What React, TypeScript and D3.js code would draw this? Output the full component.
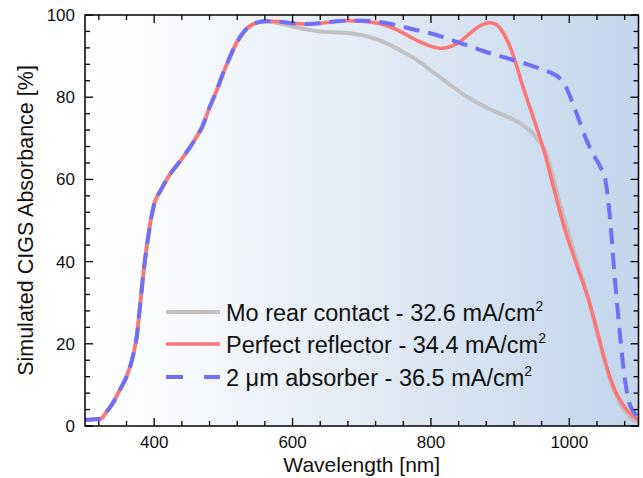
import React from 'react';
import * as d3 from 'd3';

// ---------- data ----------
const commonWl = [300, 310, 320, 325, 330, 340, 350, 360, 370, 375, 380, 385, 390, 395, 400, 410, 420, 440, 460, 470, 480, 490, 500, 510, 520, 530, 540, 550];
const commonAbs = [1.5, 1.6, 1.7, 2.0, 3.2, 5.5, 8.7, 12, 17.5, 22, 30, 38, 44.5, 50, 54, 57.5, 60.5, 65, 70, 73, 77.5, 81.5, 86, 90, 93.5, 96, 97.5, 98.2];

const moWl = [560, 580, 600, 620, 640, 660, 680, 700, 720, 740, 760, 780, 800, 820, 840, 860, 880, 900, 920, 940, 955, 965, 975, 985, 995, 1005, 1015, 1025, 1035, 1045, 1055, 1065, 1075, 1085, 1095, 1100];
const moAbs = [98.5, 98, 97.2, 96.5, 96, 95.8, 95.6, 95.1, 94.2, 92.8, 91, 89, 86.5, 84, 81.5, 79.3, 77.5, 76, 74.5, 72.3, 69.5, 67, 61.5, 55, 49, 43.5, 38, 32.5, 26, 19.5, 13.5, 8.5, 5, 2.5, 1.2, 1.0];

const reflWl = [560, 580, 600, 620, 640, 660, 680, 700, 720, 740, 760, 780, 800, 815, 830, 845, 860, 875, 885, 895, 905, 915, 925, 935, 945, 955, 965, 975, 985, 995, 1005, 1015, 1025, 1035, 1045, 1055, 1065, 1075, 1085, 1095, 1100];
const reflAbs = [98.5, 98.4, 98.0, 97.8, 98.0, 98.4, 98.6, 98.5, 98.1, 97.2, 95.6, 93.8, 92.4, 91.9, 92.4, 93.9, 96.1, 97.7, 98.1, 97.6, 95.5, 92, 87, 81.5, 76.5, 71.5, 66, 59.5, 53, 47, 42, 37, 32.3, 26.5, 20, 13.8, 9, 5.8, 3.5, 2, 1.5];

const thickWl = [560, 580, 600, 620, 640, 660, 680, 700, 720, 740, 760, 780, 800, 820, 840, 860, 880, 900, 920, 940, 960, 975, 985, 995, 1005, 1015, 1025, 1035, 1045, 1052, 1058, 1062, 1066, 1070, 1074, 1078, 1082, 1086, 1090, 1095, 1100];
const thickAbs = [98.5, 98.4, 98.0, 97.8, 98.0, 98.4, 98.6, 98.6, 98.4, 97.9, 97.1, 96.3, 95.5, 94.5, 93.3, 92.2, 91, 90, 89, 88, 86.8, 85.8, 84.8, 82.5, 78.5, 74, 69.5, 66, 63, 60, 52, 44, 35.5, 28, 21, 14.5, 9.5, 6, 4.2, 3, 2];

const seriesNames = ['Mo rear contact - 32.6 mA/cm', 'Perfect reflector - 34.4 mA/cm', '2 \u03bcm absorber - 36.5 mA/cm'];
const xMajorTicks = [400, 600, 800, 1000];
const yMajorTicks = [0, 20, 40, 60, 80, 100];
const xTitle = 'Wavelength [nm]';
const yTitle = 'Simulated CIGS Absorbance [%]';

// ---------- layout ----------
const W = 643, H = 478;
const L = 85, R = 638.5, T = 15, B = 426;
const FONT = '"Liberation Sans", Arial, Helvetica, sans-serif';

function build(wl: number[], ab: number[]): [number, number][] {
  const pts: [number, number][] = commonWl.map((w, i) => [w, commonAbs[i]]);
  wl.forEach((w, i) => pts.push([w, ab[i]]));
  return pts;
}

export default function App() {
  const x = d3.scaleLinear().domain([300, 1100]).range([L, R]);
  const y = d3.scaleLinear().domain([0, 100]).range([B, T]);
  const line = d3.line<[number, number]>().x(d => x(d[0])).y(d => y(d[1])).curve(d3.curveMonotoneX);

  const series = [
    { name: seriesNames[0], data: build(moWl, moAbs), color: '#c2c0c0', width: 4, dash: '', legendDash: '' },
    { name: seriesNames[1], data: build(reflWl, reflAbs), color: '#ff7474', width: 3.5, dash: '', legendDash: '' },
    { name: seriesNames[2], data: build(thickWl, thickAbs), color: '#6f6ff8', width: 4, dash: '16 9', legendDash: '17 21' },
  ];

  const xMinor = d3.range(320, 1100, 40).filter(v => !xMajorTicks.includes(v));
  const yMinor = d3.range(4, 100, 4).filter(v => !yMajorTicks.includes(v));
  const maj = 8, min = 5;

  const legendY = [312, 344, 377];

  return (
    <svg width={W} height={H} style={{ position: 'absolute', left: 0, top: 0 }} fontFamily={FONT}>
      <defs>
        <linearGradient id="bg" x1="0" x2="1" y1="0" y2="0">
          <stop offset="0" stopColor="#ffffff" />
          <stop offset="0.12" stopColor="#fbfcfe" />
          <stop offset="1" stopColor="#c3d6ec" />
        </linearGradient>
        <clipPath id="clip">
          <rect x={L} y={T - 5} width={R - L} height={B - T + 5} />
        </clipPath>
      </defs>
      <rect x={0} y={0} width={W} height={H} fill="#ffffff" />
      <rect x={L} y={T} width={R - L} height={B - T} fill="url(#bg)" />

      <g clipPath="url(#clip)">
        {series.map((s, i) => (
          <path key={i} d={line(s.data) || ''} fill="none" stroke={s.color} strokeWidth={s.width}
            strokeDasharray={s.dash || undefined} strokeLinejoin="round" />
        ))}
      </g>

      {/* ticks */}
      <g stroke="#000" strokeWidth={1.3}>
        {xMajorTicks.map(v => (
          <g key={'xm' + v}>
            <line x1={x(v)} x2={x(v)} y1={B} y2={B - maj} />
            <line x1={x(v)} x2={x(v)} y1={T} y2={T + maj} />
          </g>
        ))}
        {xMinor.map(v => (
          <g key={'xn' + v}>
            <line x1={x(v)} x2={x(v)} y1={B} y2={B - min} />
            <line x1={x(v)} x2={x(v)} y1={T} y2={T + min} />
          </g>
        ))}
        {yMajorTicks.map(v => (
          <g key={'ym' + v}>
            <line x1={L} x2={L + maj} y1={y(v)} y2={y(v)} />
            <line x1={R} x2={R - maj} y1={y(v)} y2={y(v)} />
          </g>
        ))}
        {yMinor.map(v => (
          <g key={'yn' + v}>
            <line x1={L} x2={L + min} y1={y(v)} y2={y(v)} />
            <line x1={R} x2={R - min} y1={y(v)} y2={y(v)} />
          </g>
        ))}
      </g>
      <rect x={L} y={T} width={R - L} height={B - T} fill="none" stroke="#000" strokeWidth={1.5} />

      {/* tick labels */}
      <g fontSize={17} fill="#111">
        {xMajorTicks.map(v => (
          <text key={'xl' + v} x={x(v)} y={448} textAnchor="middle">{v}</text>
        ))}
        {yMajorTicks.map(v => (
          <text key={'yl' + v} x={75} y={y(v) + 6} textAnchor="end">{v}</text>
        ))}
      </g>

      {/* axis titles */}
      <text x={(L + R) / 2} y={472} textAnchor="middle" fontSize={21} fill="#111">{xTitle}</text>
      <text transform={`translate(33,${(T + B) / 2}) rotate(-90)`} textAnchor="middle" fontSize={21.5} fill="#111">{yTitle}</text>

      {/* legend */}
      {series.map((s, i) => (
        <g key={'lg' + i}>
          <line x1={166} x2={220} y1={legendY[i]} y2={legendY[i]} stroke={s.color} strokeWidth={s.width}
            strokeDasharray={s.legendDash || undefined} />
          <text x={226} y={legendY[i] + 8.5} fontSize={23.5} fill="#111">
            {s.name}
            <tspan fontSize={14} dy={-10}>2</tspan>
          </text>
        </g>
      ))}
    </svg>
  );
}
